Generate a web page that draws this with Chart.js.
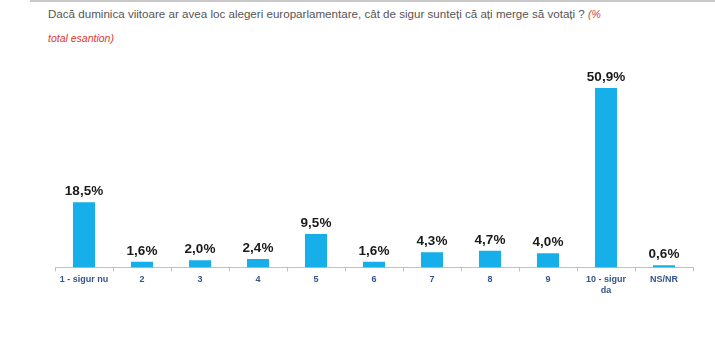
<!DOCTYPE html>
<html>
<head>
<meta charset="utf-8">
<script src="https://cdn.jsdelivr.net/npm/chart.js@4"></script>
<style>
    body { margin: 0; background: #fff; font-family: "Liberation Sans", Arial, sans-serif; }
    #page { position: relative; width: 715px; height: 352px; overflow: hidden; }
    #topLine { position: absolute; left: 30px; right: 0; top: 0; height: 2px; background: #c8c8c8; }
    .title { position: absolute; left: 48px; font-size: 11.6px; color: #555; white-space: nowrap; }
    .red { color: #e0382e; font-style: italic; font-size: 10.5px; }
    #wrap { position: absolute; left: 0; top: 0; width: 715px; height: 352px; }
</style>
</head>
<body>
<div id="page">
    <div id="topLine"></div>
    <div class="title" style="top:7px">Dacă duminica viitoare ar avea loc alegeri europarlamentare, cât de sigur sunteți că ați merge să votați ? <span class="red">(%</span></div>
    <div class="title red" style="top:32px">total esantion)</div>
    <div id="wrap"><canvas id="chart"></canvas></div>
</div>
<script>
// Kategoriler ve değerler
const categories = ['1 - sigur nu', '2', '3', '4', '5', '6', '7', '8', '9', ['10 - sigur', 'da'], 'NS/NR'];
const values = [18.5, 1.6, 2.0, 2.4, 9.5, 1.6, 4.3, 4.7, 4.0, 50.9, 0.6];

// Değer etiketlerini çubukların üstüne yaz
const valueLabels = {
    id: 'valueLabels',
    afterDatasetsDraw(chart) {
        const ctx = chart.ctx;
        const meta = chart.getDatasetMeta(0);
        ctx.save();
        ctx.font = 'bold 13.5px "Liberation Sans", Arial, sans-serif';
        ctx.fillStyle = '#1a1a1a';
        ctx.textAlign = 'center';
        ctx.textBaseline = 'bottom';
        meta.data.forEach((bar, i) => {
            ctx.fillText(values[i].toFixed(1).replace('.', ',') + '%', bar.x, bar.y - 4);
        });
        ctx.restore();
    }
};

new Chart(document.getElementById('chart'), {
    type: 'bar',
    data: {
        labels: categories,
        datasets: [{
            data: values,
            backgroundColor: '#17afea',
            barPercentage: 0.38,
            categoryPercentage: 1
        }]
    },
    options: {
        responsive: true,
        maintainAspectRatio: false,
        animation: false,
        layout: { padding: { left: 55, right: 22, top: 63, bottom: 53 } },
        plugins: {
            legend: { display: false },
            tooltip: { enabled: false }
        },
        scales: {
            x: {
                grid: { drawOnChartArea: false, drawTicks: true, tickLength: 4, color: '#c0c0c0' },
                border: { color: '#c0c0c0' },
                ticks: {
                    color: '#34548a',
                    font: { family: '"Liberation Sans", Arial, sans-serif', size: 9, weight: 'bold' },
                    padding: 3,
                    maxRotation: 0,
                    autoSkip: false
                }
            },
            y: {
                display: false,
                min: 0,
                max: 58
            }
        }
    },
    plugins: [valueLabels]
});
</script>
</body>
</html>
